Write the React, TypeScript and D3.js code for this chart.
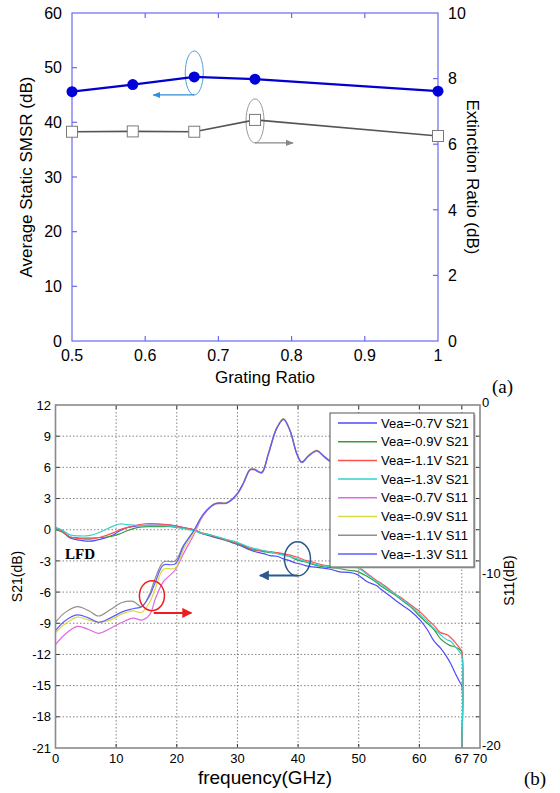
import React from 'react';
import * as d3 from 'd3';

// ---------- (a) data ----------
const gratingRatio = [0.5, 0.583, 0.667, 0.75, 1.0];
const smsrDb = [45.6, 46.9, 48.3, 47.9, 45.7];
const extinctionDb = [6.38, 6.39, 6.38, 6.74, 6.25];
const gratingTicks = [0.5, 0.6, 0.7, 0.8, 0.9, 1];
const smsrTicks = [0, 10, 20, 30, 40, 50, 60];
const erTicks = [0, 2, 4, 6, 8, 10];

// ---------- (b) data ----------
const freqTicks = [0, 10, 20, 30, 40, 50, 60, 67, 70];
const freqGrid = [0, 10, 20, 30, 40, 50, 60, 67];
const s21Ticks = [12, 9, 6, 3, 0, -3, -6, -9, -12, -15, -18, -21];
const s11Labels = [0, -10, -20];

const s21Freq = [0, 1, 2.4, 4, 5.7, 7.5, 9.5, 10.6, 11.8, 13.9, 15.6, 17.3, 19, 21.1, 22.8, 23.9, 25.5, 26.6, 28, 29.4, 30.8, 32.1, 33.2, 34.3, 35.4, 36.5, 37.6, 38.7, 39.6, 40.4, 41.2, 42, 43.5, 45.3, 46.9, 48.3, 49.7, 51.4, 53, 53.6, 55, 56.3, 56.9, 58.5, 60.2, 61.3, 62.4, 63.5, 64.6, 65.1, 66, 66.8, 67, 67];
const s21Vea07 = [0.2, -0.1, -0.8, -1.0, -1.1, -0.9, -0.5, -0.1, 0.2, 0.4, 0.45, 0.45, 0.45, 0.2, 0.0, -0.3, -0.6, -0.8, -1.0, -1.3, -1.6, -1.95, -2.15, -2.3, -2.5, -2.55, -2.8, -3.0, -3.2, -3.3, -3.45, -3.55, -3.65, -3.8, -4.05, -4.1, -4.3, -5.0, -5.4, -5.7, -6.3, -6.9, -7.15, -7.8, -8.75, -9.6, -10.7, -11.4, -12.3, -12.8, -13.9, -14.8, -15.0, -21];
const s21Vea09 = [0.0, -0.2, -0.7, -0.8, -0.8, -0.75, -0.6, -0.4, -0.1, 0.25, 0.3, 0.3, 0.3, 0.15, 0.0, -0.3, -0.55, -0.75, -1.0, -1.25, -1.5, -1.85, -2.0, -2.1, -2.2, -2.25, -2.4, -2.6, -2.85, -3.0, -3.1, -3.25, -3.5, -3.65, -3.75, -3.9, -4.0, -4.5, -5.1, -5.4, -5.9, -6.4, -6.7, -7.4, -8.4, -9.0, -9.6, -10.5, -11.0, -11.15, -11.3, -11.6, -11.8, -21];
const s21Vea11 = [0.1, -0.1, -0.7, -0.85, -0.9, -0.7, -0.3, 0.0, 0.2, 0.5, 0.6, 0.55, 0.45, 0.2, 0.0, -0.25, -0.5, -0.7, -0.95, -1.2, -1.45, -1.8, -1.95, -2.05, -2.1, -2.2, -2.3, -2.45, -2.6, -2.75, -2.95, -3.05, -3.3, -3.5, -3.6, -3.6, -3.55, -4.2, -4.9, -5.1, -5.7, -6.3, -6.5, -7.2, -7.95, -8.6, -9.2, -9.9, -10.1, -10.35, -10.9, -11.5, -11.7, -21];
const s21Vea13 = [0.2, 0.0, -0.5, -0.6, -0.55, -0.2, 0.35, 0.55, 0.5, 0.4, 0.4, 0.4, 0.35, 0.1, -0.1, -0.3, -0.5, -0.65, -0.9, -1.1, -1.4, -1.7, -1.85, -2.0, -2.15, -2.3, -2.45, -2.6, -2.75, -2.9, -3.05, -3.2, -3.4, -3.55, -3.6, -3.6, -3.65, -4.3, -5.0, -5.2, -5.8, -6.3, -6.6, -7.3, -8.2, -8.8, -9.5, -10.1, -10.6, -10.7, -11.3, -11.9, -12.1, -21];

// S11 traces as read against the left-hand grid
const s11Freq = [0, 1.5, 3.6, 5.5, 7.1, 9, 11, 12.8, 14.2, 15.5, 16.5, 17.8, 19.7, 21.1, 22.8, 24.4, 26.3, 28.3, 29.9, 31, 32.1, 32.8, 34, 35.1, 36.5, 37.6, 38.7, 39.8, 40.6, 41.7, 43.1, 44.2, 45.3, 47, 50];
const s11Vea07 = [-11.05, -10.1, -9.3, -9.6, -9.97, -9.5, -8.9, -8.5, -8.7, -8.2, -6.6, -5.0, -3.9, -2.3, -0.5, 1.4, 2.45, 2.55, 3.35, 4.45, 5.75, 5.75, 5.45, 7.25, 9.75, 10.6, 9.45, 7.25, 6.45, 7.05, 7.55, 7.05, 6.55, 6.3, 6.0];
const s11Vea09 = [-9.9, -9.1, -8.4, -8.7, -8.9, -8.7, -8.1, -7.8, -7.95, -7.0, -5.6, -3.8, -3.7, -1.9, -0.3, 1.5, 2.55, 2.65, 3.45, 4.55, 5.85, 5.85, 5.55, 7.35, 9.85, 10.7, 9.55, 7.35, 6.55, 7.15, 7.65, 7.15, 6.65, 6.3, 6.0];
const s11Vea11 = [-8.9, -8.0, -7.4, -7.8, -8.3, -7.7, -7.0, -6.9, -7.4, -6.2, -4.6, -3.1, -3.0, -1.5, -0.1, 1.5, 2.5, 2.6, 3.4, 4.5, 5.8, 5.8, 5.5, 7.3, 9.8, 10.65, 9.5, 7.3, 6.5, 7.1, 7.6, 7.1, 6.6, 6.3, 6.0];
const s11Vea13 = [-9.7, -8.8, -8.2, -8.5, -8.9, -8.5, -7.9, -7.6, -7.4, -6.4, -5.0, -3.4, -3.3, -1.6, -0.1, 1.5, 2.5, 2.6, 3.4, 4.5, 5.8, 5.8, 5.5, 7.3, 9.8, 10.65, 9.5, 7.3, 6.5, 7.1, 7.6, 7.1, 6.6, 6.3, 6.0];

const legendNames = ['Vea=-0.7V S21', 'Vea=-0.9V S21', 'Vea=-1.1V S21', 'Vea=-1.3V S21', 'Vea=-0.7V S11', 'Vea=-0.9V S11', 'Vea=-1.1V S11', 'Vea=-1.3V S11'];
const legendColors = ['#4b4bff', '#3c9a3c', '#ff4f4f', '#35d0d0', '#e466e4', '#d9d944', '#8f8f8f', '#5d5dff'];

const SANS = 'Liberation Sans, Arial, sans-serif';
const SERIF = 'Liberation Serif, Times New Roman, serif';

export default function App() {
  // ---- scales (a)
  const xa = d3.scaleLinear().domain([0.5, 1]).range([72, 438]);
  const ya = d3.scaleLinear().domain([0, 60]).range([341, 13]);
  const yaR = d3.scaleLinear().domain([0, 10]).range([341, 13]);
  const axisA = '#6a6af2';

  const smsrPts = gratingRatio.map((g, i) => [xa(g), ya(smsrDb[i])] as [number, number]);
  const erPts = gratingRatio.map((g, i) => [xa(g), yaR(extinctionDb[i])] as [number, number]);
  const straight = d3.line<[number, number]>();

  // ---- scales (b)
  const xb = d3.scaleLinear().domain([0, 70]).range([55.5, 480]);
  const yb = d3.scaleLinear().domain([-21, 12]).range([748, 405]);
  const yb11 = d3.scaleLinear().domain([-20, 0]).range([748, 405]);
  const curve = d3
    .line<[number, number]>()
    .x((d) => xb(d[0]))
    .y((d) => yb(d[1]))
    .curve(d3.curveCatmullRom.alpha(0.5));

  const s21 = [s21Vea07, s21Vea09, s21Vea11, s21Vea13].map((v) => s21Freq.map((f, i) => [f, v[i]] as [number, number]));
  const s11 = [s11Vea07, s11Vea09, s11Vea11, s11Vea13].map((v) => s11Freq.map((f, i) => [f, v[i]] as [number, number]));
  const allSeries = [...s21, ...s11];

  const [bx0, bx1] = xb.range();
  const [by0, by1] = [yb(-21), yb(12)];

  const legX = 330, legY = 413, legW = 144, legH = 154, rowH = 18.7;

  const ellA1 = { cx: xa(0.667), cy: ya(smsrDb[2]) - 4 };
  const ellA2 = { cx: xa(0.75), cy: yaR(extinctionDb[3]) + 1 };

  return (
    <svg width={560} height={793} style={{ position: 'absolute', left: 0, top: 0, background: '#fff' }}>
      <defs>
        <marker id="arrBlueA" viewBox="0 0 10 10" refX="9" refY="5" markerWidth="6" markerHeight="6" orient="auto">
          <path d="M0,1 L10,5 L0,9 z" fill="#2f8fd8" />
        </marker>
        <marker id="arrGrayA" viewBox="0 0 10 10" refX="9" refY="5" markerWidth="6" markerHeight="6" orient="auto">
          <path d="M0,1 L10,5 L0,9 z" fill="#888" />
        </marker>
        <marker id="arrRed" viewBox="0 0 10 10" refX="9" refY="5" markerWidth="5" markerHeight="5" orient="auto">
          <path d="M0,0 L10,5 L0,10 z" fill="#ee1c1c" />
        </marker>
        <marker id="arrNavy" viewBox="0 0 10 10" refX="9" refY="5" markerWidth="5" markerHeight="5" orient="auto">
          <path d="M0,0 L10,5 L0,10 z" fill="#2a5a8c" />
        </marker>
      </defs>

      {/* ================= (a) ================= */}
      <g>
        <rect x={xa(0.5)} y={ya(60)} width={xa(1) - xa(0.5)} height={ya(0) - ya(60)} fill="none" stroke={axisA} strokeWidth={1.2} />
        {gratingTicks.slice(1, -1).map((t) => (
          <g key={'gt' + t}>
            <line x1={xa(t)} x2={xa(t)} y1={ya(0)} y2={ya(0) - 5} stroke={axisA} strokeWidth={1.2} />
            <line x1={xa(t)} x2={xa(t)} y1={ya(60)} y2={ya(60) + 5} stroke={axisA} strokeWidth={1.2} />
          </g>
        ))}
        {smsrTicks.slice(1, -1).map((t) => (
          <line key={'st' + t} x1={xa(0.5)} x2={xa(0.5) + 5} y1={ya(t)} y2={ya(t)} stroke={axisA} strokeWidth={1.2} />
        ))}
        {erTicks.slice(1, -1).map((t) => (
          <line key={'et' + t} x1={xa(1)} x2={xa(1) - 5} y1={yaR(t)} y2={yaR(t)} stroke={axisA} strokeWidth={1.2} />
        ))}
        {gratingTicks.map((t) => (
          <text key={'gl' + t} x={xa(t)} y={361} textAnchor="middle" fontFamily={SANS} fontSize={16}>{t}</text>
        ))}
        {smsrTicks.map((t) => (
          <text key={'sl' + t} x={62} y={ya(t)} dy="0.36em" textAnchor="end" fontFamily={SANS} fontSize={16}>{t}</text>
        ))}
        {erTicks.map((t) => (
          <text key={'el' + t} x={448} y={yaR(t)} dy="0.36em" textAnchor="start" fontFamily={SANS} fontSize={16}>{t}</text>
        ))}
        <text x={265} y={383} textAnchor="middle" fontFamily={SANS} fontSize={17}>Grating Ratio</text>
        <text transform={`translate(32,${ya(30)}) rotate(-90)`} textAnchor="middle" fontFamily={SANS} fontSize={17}>Average Static SMSR (dB)</text>
        <text transform={`translate(467,${ya(30)}) rotate(90)`} textAnchor="middle" fontFamily={SANS} fontSize={17}>Extinction Ratio (dB)</text>

        {/* annotations */}
        <ellipse cx={ellA1.cx} cy={ellA1.cy} rx={9} ry={22} fill="none" stroke="#4aa3dc" strokeWidth={1} />
        <line x1={ellA1.cx} x2={ellA1.cx - 41} y1={ellA1.cy + 22} y2={ellA1.cy + 22} stroke="#2f8fd8" strokeWidth={1.3} markerEnd="url(#arrBlueA)" />
        <ellipse cx={ellA2.cx} cy={ellA2.cy} rx={9} ry={22} fill="none" stroke="#999" strokeWidth={1} />
        <line x1={ellA2.cx} x2={ellA2.cx + 38} y1={ellA2.cy + 22} y2={ellA2.cy + 22} stroke="#888" strokeWidth={1.3} markerEnd="url(#arrGrayA)" />

        <path d={straight(erPts) || ''} fill="none" stroke="#555" strokeWidth={1.6} />
        {erPts.map((p, i) => (
          <rect key={'er' + i} x={p[0] - 5.5} y={p[1] - 5.5} width={11} height={11} fill="#fff" stroke="#7a7a7a" strokeWidth={1} />
        ))}
        <path d={straight(smsrPts) || ''} fill="none" stroke="#0000d0" strokeWidth={2.3} />
        {smsrPts.map((p, i) => (
          <circle key={'sm' + i} cx={p[0]} cy={p[1]} r={5.5} fill="#0000d8" />
        ))}
        <text x={492} y={393} fontFamily={SERIF} fontSize={19}>(a)</text>
      </g>

      {/* ================= (b) ================= */}
      <g>
        {/* grid */}
        {freqGrid.slice(1).map((f) => (
          <line key={'vg' + f} x1={xb(f)} x2={xb(f)} y1={by1} y2={by0} stroke="#666" strokeWidth={0.8} strokeDasharray="1.5,2" />
        ))}
        {s21Ticks.slice(1, -1).map((t) => (
          <line key={'hg' + t} x1={bx0} x2={bx1} y1={yb(t)} y2={yb(t)} stroke="#666" strokeWidth={0.8} strokeDasharray="1.5,2" />
        ))}
        {/* ticks */}
        {freqTicks.slice(1, -1).map((f) => (
          <g key={'ft' + f}>
            <line x1={xb(f)} x2={xb(f)} y1={by0} y2={by0 - 4} stroke="#333" strokeWidth={1} />
            <line x1={xb(f)} x2={xb(f)} y1={by1} y2={by1 + 4} stroke="#333" strokeWidth={1} />
          </g>
        ))}
        {s21Ticks.slice(1, -1).map((t) => (
          <g key={'yt' + t}>
            <line x1={bx0} x2={bx0 + 4} y1={yb(t)} y2={yb(t)} stroke="#333" strokeWidth={1} />
            <line x1={bx1} x2={bx1 - 4} y1={yb(t)} y2={yb(t)} stroke="#333" strokeWidth={1} />
          </g>
        ))}

        {/* curves */}
        {allSeries.map((s, i) => (
          <path key={'c' + i} d={curve(s) || ''} fill="none" stroke={legendColors[i]} strokeWidth={1.2} />
        ))}

        {/* frame */}
        <rect x={bx0} y={by1} width={bx1 - bx0} height={by0 - by1} fill="none" stroke="#8a8a8a" strokeWidth={1.6} />

        {/* tick labels */}
        {s21Ticks.map((t) => (
          <text key={'yl' + t} x={51} y={yb(t)} dy="0.36em" textAnchor="end" fontFamily={SANS} fontSize={13}>{t}</text>
        ))}
        {freqTicks.map((f) => (
          <text key={'fl' + f} x={xb(f)} y={763} textAnchor="middle" fontFamily={SANS} fontSize={13}>{f}</text>
        ))}
        {s11Labels.map((t) => (
          <text key={'rl' + t} x={482} y={yb11(t) - 3} dy="0.36em" textAnchor="start" fontFamily={SANS} fontSize={13}>{t}</text>
        ))}
        <text x={265} y={784} textAnchor="middle" fontFamily={SANS} fontSize={19}>frequency(GHz)</text>
        <text transform={`translate(22,${yb(-4.5)}) rotate(-90)`} textAnchor="middle" fontFamily={SANS} fontSize={14}>S21(dB)</text>
        <text transform={`translate(514,${yb11(-10) + 4}) rotate(-90)`} textAnchor="middle" fontFamily={SANS} fontSize={14}>S11(dB)</text>
        <text x={65} y={559} fontFamily={SERIF} fontSize={15} fontWeight="bold">LFD</text>

        {/* annotations */}
        <ellipse cx={xb(15.9)} cy={yb(-6.35)} rx={12.5} ry={15} fill="none" stroke="#ee1c1c" strokeWidth={1.5} />
        <line x1={xb(16.2)} x2={xb(22.4)} y1={yb(-8)} y2={yb(-8)} stroke="#ee1c1c" strokeWidth={2} markerEnd="url(#arrRed)" />
        <ellipse cx={xb(39.9)} cy={yb(-2.8)} rx={13} ry={17} fill="none" stroke="#2a5a8c" strokeWidth={1.5} />
        <line x1={xb(39.9)} x2={xb(33.7)} y1={yb(-4.4)} y2={yb(-4.4)} stroke="#2a5a8c" strokeWidth={2} markerEnd="url(#arrNavy)" />

        {/* legend */}
        <rect x={legX + 1.5} y={legY + 1.5} width={legW} height={legH} fill="#bbb" />
        <rect x={legX} y={legY} width={legW} height={legH} fill="#fff" stroke="#555" strokeWidth={1} />
        {legendNames.map((n, i) => (
          <g key={'lg' + i}>
            <line x1={338} x2={377} y1={legY + 10 + i * rowH} y2={legY + 10 + i * rowH} stroke={legendColors[i]} strokeWidth={1.5} />
            <text x={381} y={legY + 10 + i * rowH} dy="0.36em" fontFamily={SANS} fontSize={13}>{n}</text>
          </g>
        ))}
        <text x={524} y={785} fontFamily={SERIF} fontSize={19}>(b)</text>
      </g>
    </svg>
  );
}
